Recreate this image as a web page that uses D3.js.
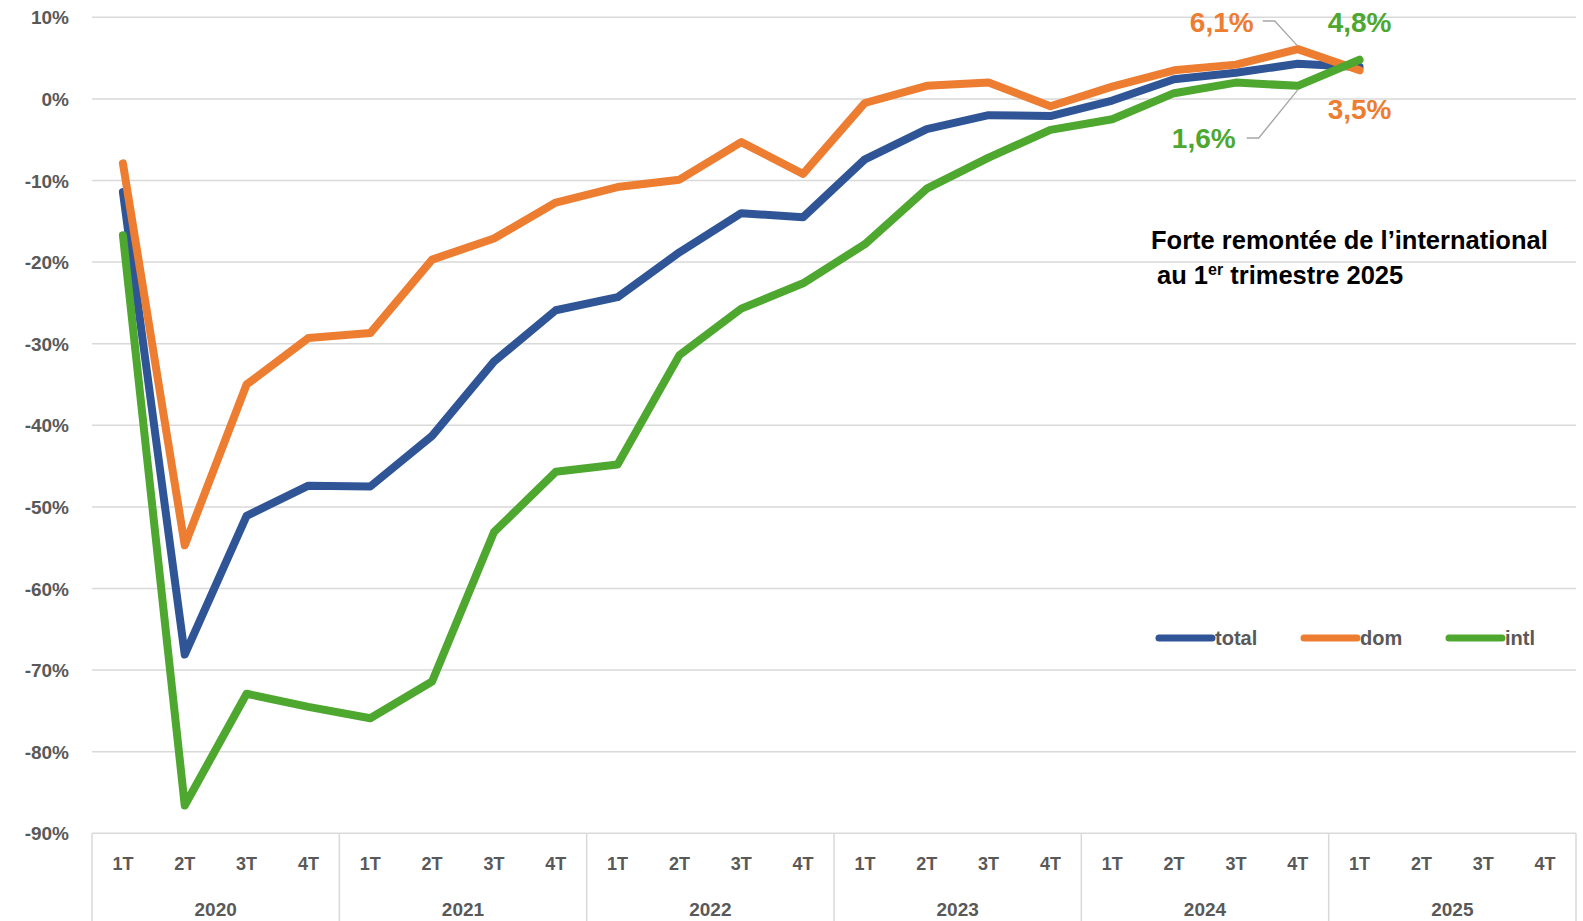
<!DOCTYPE html>
<html>
<head>
<meta charset="utf-8">
<script src="https://cdn.jsdelivr.net/npm/d3@7"></script>
<style>
  body { margin: 0; background: #fff; }
  svg text { font-family: "Liberation Sans", Arial, sans-serif; }
</style>
</head>
<body>
<div id="chart"></div>
<script>
// data (% change vs same quarter 2019)
var years = ["2020", "2021", "2022", "2023", "2024", "2025"];
var quarters = ["1T", "2T", "3T", "4T"];
var yTicks = [10, 0, -10, -20, -30, -40, -50, -60, -70, -80, -90];

var total = [-11.4, -68.1, -51.1, -47.4, -47.5, -41.3, -32.2, -25.9, -24.3, -18.8, -14.0, -14.5,
             -7.4, -3.7, -2.0, -2.1, -0.2, 2.4, 3.2, 4.3, 3.9];
var dom   = [-7.9, -54.7, -35.0, -29.3, -28.7, -19.7, -17.1, -12.7, -10.8, -9.9, -5.3, -9.2,
             -0.5, 1.6, 2.0, -0.9, 1.5, 3.5, 4.2, 6.1, 3.5];
var intl  = [-16.7, -86.6, -72.9, -74.5, -75.9, -71.4, -53.1, -45.7, -44.8, -31.4, -25.7, -22.6,
             -17.8, -11.0, -7.2, -3.8, -2.5, 0.7, 2.0, 1.6, 4.8];

var series = [
  {name: "total", values: total, color: "#2F5597"},
  {name: "dom", values: dom, color: "#ED7D31"},
  {name: "intl", values: intl, color: "#4EA72E"}
];

var w = 1583, h = 921;
var mLeft = 92, mRight = 1576, mTop = 17.3, mBottom = 833.3;

var svg = d3.select("#chart").append("svg")
    .attr("width", w)
    .attr("height", h);

var cats = [];
years.forEach(function(y) { quarters.forEach(function(q) { cats.push(y + "-" + q); }); });

var x = d3.scaleBand().domain(cats).range([mLeft, mRight]).padding(0);
var y = d3.scaleLinear().domain([-90, 10]).range([mBottom, mTop]);
var bw = x.bandwidth();
function cx(i) { return x(cats[i]) + bw / 2; }

// gridlines
svg.append("g")
  .selectAll("line")
  .data(yTicks)
  .enter().append("line")
  .attr("x1", mLeft).attr("x2", mRight)
  .attr("y1", function(d) { return y(d); })
  .attr("y2", function(d) { return y(d); })
  .style("stroke", "#d9d9d9")
  .style("stroke-width", 1.5);

// y labels
svg.append("g")
  .selectAll("text")
  .data(yTicks)
  .enter().append("text")
  .attr("x", 69)
  .attr("y", function(d) { return y(d) + 7; })
  .attr("text-anchor", "end")
  .style("font-size", "19px")
  .style("font-weight", "bold")
  .style("fill", "#595959")
  .text(function(d) { return d + "%"; });

// x axis: quarters + year groups
var xa = svg.append("g");
xa.selectAll("text.q")
  .data(cats)
  .enter().append("text")
  .attr("class", "q")
  .attr("x", function(d) { return x(d) + bw / 2; })
  .attr("y", 870)
  .attr("text-anchor", "middle")
  .style("font-size", "18px")
  .style("font-weight", "bold")
  .style("fill", "#595959")
  .text(function(d) { return d.split("-")[1]; });

xa.selectAll("text.yr")
  .data(years)
  .enter().append("text")
  .attr("class", "yr")
  .attr("x", function(d) { return x(d + "-1T") + bw * 2; })
  .attr("y", 916)
  .attr("text-anchor", "middle")
  .style("font-size", "19px")
  .style("font-weight", "bold")
  .style("fill", "#595959")
  .text(function(d) { return d; });

var seps = years.map(function(d) { return x(d + "-1T"); }).concat([mRight]);
xa.selectAll("line")
  .data(seps)
  .enter().append("line")
  .attr("x1", function(d) { return d; })
  .attr("x2", function(d) { return d; })
  .attr("y1", mBottom).attr("y2", h)
  .style("stroke", "#d9d9d9")
  .style("stroke-width", 1.5);

// lines
var line = d3.line()
  .x(function(d, i) { return cx(i); })
  .y(function(d) { return y(d); });

svg.append("g")
  .selectAll("path")
  .data(series)
  .enter().append("path")
  .attr("d", function(d) { return line(d.values); })
  .style("fill", "none")
  .style("stroke", function(d) { return d.color; })
  .style("stroke-width", 8)
  .style("stroke-linejoin", "round")
  .style("stroke-linecap", "round");

// data labels with leaders
var i4 = 19, i1 = 20;
var lab = svg.append("g").style("font-size", "28px").style("font-weight", "bold");
function fmt(v) { return v.toFixed(1).replace(".", ",") + "%"; }

lab.append("text").attr("x", cx(i4) - 76).attr("y", 32).attr("text-anchor", "middle")
  .style("fill", "#ED7D31").text(fmt(dom[i4]));
lab.append("text").attr("x", cx(i1)).attr("y", 32).attr("text-anchor", "middle")
  .style("fill", "#4EA72E").text(fmt(intl[i1]));
lab.append("text").attr("x", cx(i1)).attr("y", 119).attr("text-anchor", "middle")
  .style("fill", "#ED7D31").text(fmt(dom[i1]));
lab.append("text").attr("x", cx(i4) - 94).attr("y", 148).attr("text-anchor", "middle")
  .style("fill", "#4EA72E").text(fmt(intl[i4]));

var leaders = [
  [[cx(i4) - 35, 21], [cx(i4) - 23, 21], [cx(i4), y(dom[i4]) - 3]],
  [[cx(i4) - 51, 138], [cx(i4) - 39, 138], [cx(i4), y(intl[i4]) + 4]]
];
svg.append("g")
  .selectAll("path")
  .data(leaders)
  .enter().append("path")
  .attr("d", d3.line())
  .style("fill", "none")
  .style("stroke", "#a6a6a6")
  .style("stroke-width", 1.3);

// annotation
var ann = svg.append("text")
  .attr("x", 1151).attr("y", 249)
  .style("font-size", "25.5px")
  .style("font-weight", "bold")
  .style("fill", "#000");
ann.text("Forte remontée de l\u2019international");
var ann2 = svg.append("text")
  .attr("x", 1157).attr("y", 284)
  .style("font-size", "25.5px")
  .style("font-weight", "bold")
  .style("fill", "#000");
ann2.append("tspan").text("au 1");
ann2.append("tspan").attr("dy", -9).style("font-size", "16px").text("er");
ann2.append("tspan").attr("dy", 9).text(" trimestre 2025");

// legend
var lg = svg.append("g")
  .selectAll("g")
  .data(series)
  .enter().append("g")
  .attr("transform", function(d, i) { return "translate(" + (1159 + i * 145) + ",638)"; });
lg.append("line")
  .attr("x1", 0).attr("x2", 53)
  .style("stroke", function(d) { return d.color; })
  .style("stroke-width", 7)
  .style("stroke-linecap", "round");
lg.append("text")
  .attr("x", 56).attr("y", 7)
  .style("font-size", "20px")
  .style("font-weight", "bold")
  .style("fill", "#595959")
  .text(function(d) { return d.name; });
</script>
</body>
</html>
